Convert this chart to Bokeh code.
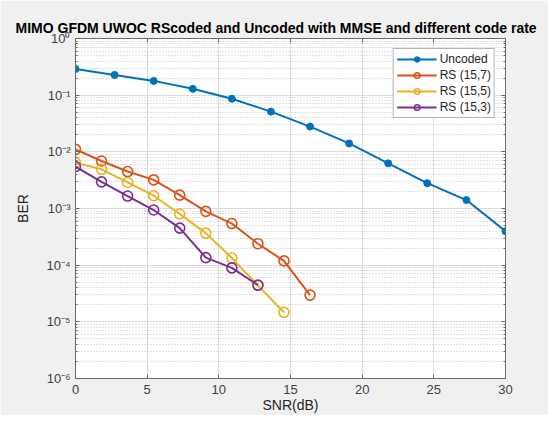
from bokeh.plotting import figure
from bokeh.models import (FixedTicker, LogTicker, CustomJSTickFormatter, LinearAxis,
                          LogAxis, Legend, LegendItem, Range1d)
from bokeh.embed import file_html
from bokeh.resources import INLINE

# ---- data ----
snr_uncoded = [0, 2.727, 5.455, 8.182, 10.909, 13.636, 16.364, 19.091, 21.818, 24.545, 27.273, 30]
ber_uncoded = [0.290, 0.2275, 0.1786, 0.1293, 0.0865, 0.0512, 0.0279, 0.01406, 0.00627, 0.0028, 0.00141, 0.000398]

snr_rs157 = [0, 1.818, 3.636, 5.455, 7.273, 9.091, 10.909, 12.727, 14.545, 16.364]
ber_rs157 = [0.01104, 0.00689, 0.00449, 0.0032, 0.00172, 0.00089, 0.000542, 0.000239, 0.000119, 2.96e-5]

snr_rs155 = [0, 1.818, 3.636, 5.455, 7.273, 9.091, 10.909, 12.727, 14.545]
ber_rs155 = [0.00645, 0.00492, 0.00288, 0.00168, 0.0008, 0.000368, 0.000134, 4.4e-5, 1.47e-5]

snr_rs153 = [0, 1.818, 3.636, 5.455, 7.273, 9.091, 10.909, 12.727]
ber_rs153 = [0.0055, 0.00295, 0.00166, 0.00094, 0.00045, 0.000136, 8.96e-5, 4.44e-5]

x_ticks = [0, 5, 10, 15, 20, 25, 30]

series_names = ["Uncoded", "RS (15,7)", "RS (15,5)", "RS (15,3)"]
colors = ["#0072BD", "#D95319", "#EDB120", "#7E2F8E"]

FONT = "Liberation Sans"
AXIS_COL = "#6b6b6b"
TXT_COL = "#404040"

p = figure(width=548, height=415, y_axis_type="log",
           x_range=Range1d(0, 30), y_range=Range1d(1e-6, 1),
           output_backend="svg", toolbar_location=None,
           background_fill_color="white", border_fill_color="#f0f0f0",
           min_border_left=75, min_border_right=43, min_border_top=38, min_border_bottom=34)

p.outline_line_color = AXIS_COL
p.outline_line_width = 1

# title
p.title.text = "MIMO GFDM UWOC RScoded and Uncoded with MMSE and different code rate"
p.title.text_font = FONT
p.title.text_font_style = "bold"
p.title.text_font_size = "14px"
p.title.text_color = "black"
p.title.align = "left"
p.title.offset = -60
p.title.standoff = 6

sup_js = """
const sup = {'-':'\u207b','0':'\u2070','1':'\u00b9','2':'\u00b2','3':'\u00b3','4':'\u2074',
             '5':'\u2075','6':'\u2076','7':'\u2077','8':'\u2078','9':'\u2079'};
const e = Math.round(Math.log10(tick));
return '10' + String(e).split('').map(c => sup[c]).join('');
"""

xa = p.xaxis[0]
xa.ticker = FixedTicker(ticks=x_ticks)
xa.axis_label = "SNR(dB)"
ya = p.yaxis[0]
ya.ticker = LogTicker(desired_num_ticks=7, num_minor_ticks=10)
ya.formatter = CustomJSTickFormatter(code=sup_js)
ya.axis_label = "BER"

for ax in (xa, ya):
    ax.axis_line_color = AXIS_COL
    ax.major_tick_line_color = AXIS_COL
    ax.minor_tick_line_color = AXIS_COL
    ax.major_tick_in = 4
    ax.major_tick_out = 0
    ax.minor_tick_in = 2
    ax.minor_tick_out = 0
    ax.major_label_text_font = FONT
    ax.major_label_text_font_size = "13px"
    ax.major_label_text_color = TXT_COL
    ax.axis_label_text_font = FONT
    ax.axis_label_text_font_size = "14px"
    ax.axis_label_text_font_style = "normal"
    ax.axis_label_text_color = "#262626"
xa.minor_tick_line_color = None
xa.major_label_standoff = 6
xa.axis_label_standoff = 0
ya.major_label_standoff = 5
ya.axis_label_standoff = 12

blank = CustomJSTickFormatter(code="return '';")
top = LinearAxis(ticker=FixedTicker(ticks=x_ticks), formatter=blank,
                 axis_line_color=AXIS_COL, major_tick_line_color=AXIS_COL,
                 major_tick_in=4, major_tick_out=0, minor_tick_line_color=None,
                 major_label_text_font_size="0px", major_label_standoff=0)
p.add_layout(top, "above")
right = LogAxis(ticker=LogTicker(desired_num_ticks=7, num_minor_ticks=10),
                formatter=CustomJSTickFormatter(code="return '';"),
                axis_line_color=AXIS_COL, major_tick_line_color=AXIS_COL,
                minor_tick_line_color=AXIS_COL,
                major_tick_in=4, major_tick_out=0, minor_tick_in=2, minor_tick_out=0,
                major_label_text_font_size="0px", major_label_standoff=0)
p.add_layout(right, "right")

p.xgrid.grid_line_color = "#dcdcdc"
p.ygrid.grid_line_color = "#dcdcdc"
p.ygrid.minor_grid_line_color = "#c4c4c4"
p.ygrid.minor_grid_line_dash = "1 2"
p.ygrid.minor_grid_line_width = 1

items = []
r0l = p.line(snr_uncoded, ber_uncoded, line_color=colors[0], line_width=2)
r0m = p.scatter(snr_uncoded, ber_uncoded, marker="circle", size=7,
                fill_color=colors[0], line_color=colors[0])
items.append(LegendItem(label=series_names[0], renderers=[r0l, r0m]))

for xs, ys, name, col in [(snr_rs157, ber_rs157, series_names[1], colors[1]),
                          (snr_rs155, ber_rs155, series_names[2], colors[2]),
                          (snr_rs153, ber_rs153, series_names[3], colors[3])]:
    rl = p.line(xs, ys, line_color=col, line_width=2)
    rm = p.scatter(xs, ys, marker="circle", size=10, fill_color=None,
                   line_color=col, line_width=1.6)
    items.append(LegendItem(label=name, renderers=[rl, rm]))

legend = Legend(items=items, location="top_right", margin=10,
                label_text_font=FONT, label_text_font_size="12px",
                label_text_color="#262626", glyph_width=40, glyph_height=14,
                label_height=14, spacing=2, padding=3, label_standoff=3,
                border_line_color=AXIS_COL, background_fill_color="white",
                background_fill_alpha=1)
p.add_layout(legend)

html = file_html(p, INLINE)
html = html.replace("<body>", '<body style="background-color:#f0f0f0;">', 1)
open("out.html", "w").write(html)
